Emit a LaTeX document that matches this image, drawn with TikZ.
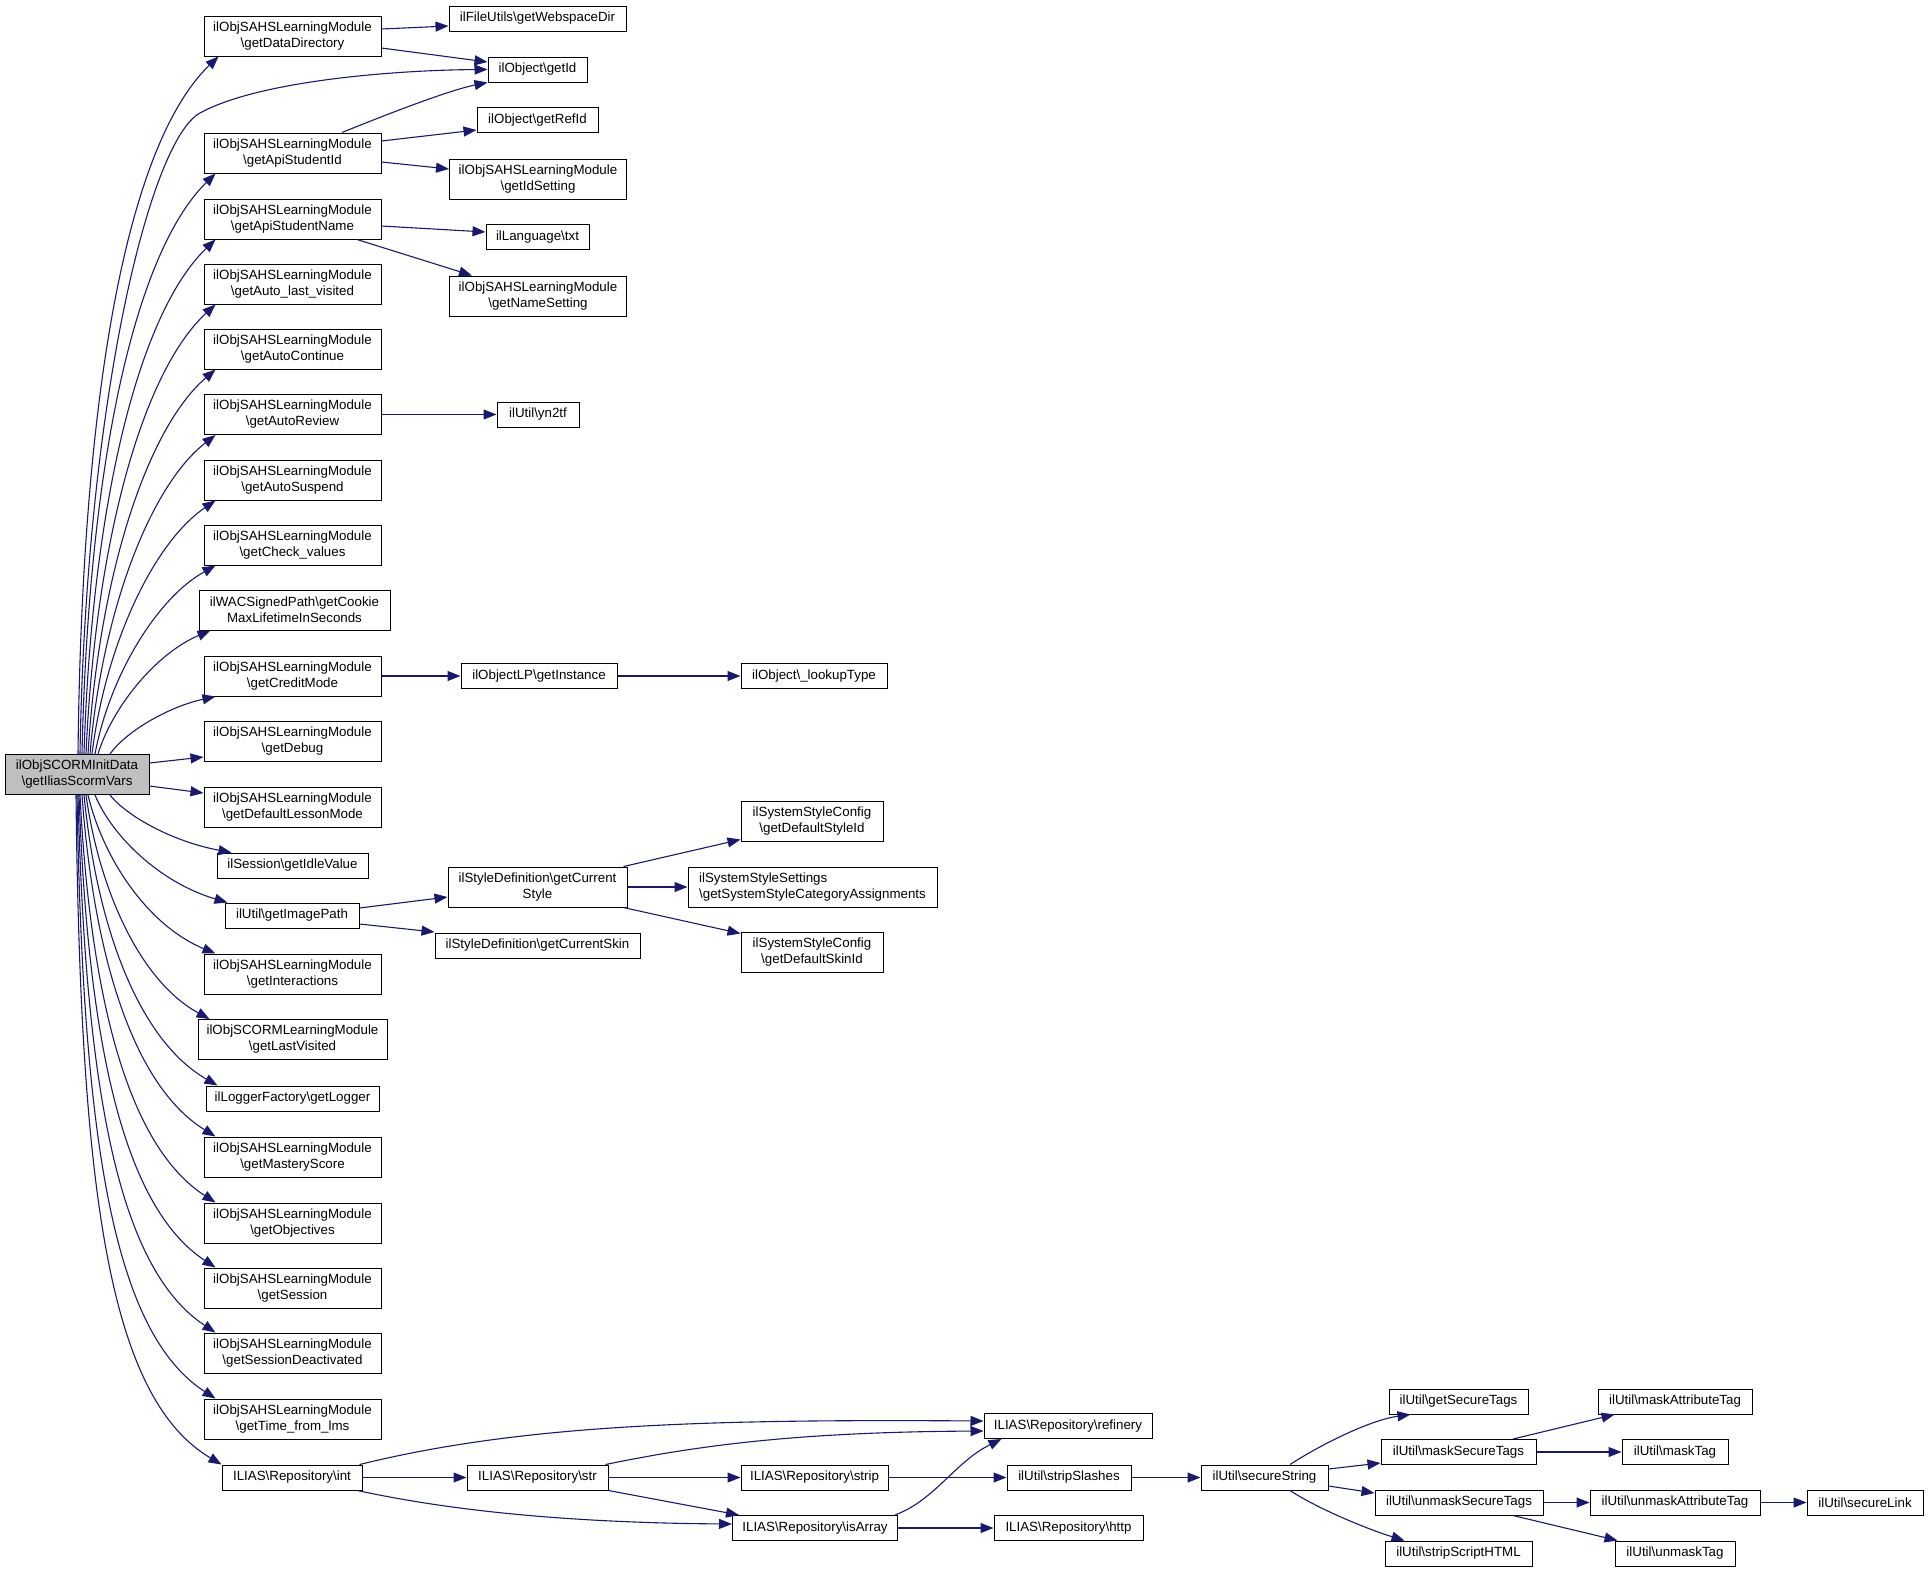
\documentclass[tikz,border=0pt]{standalone}
\usepackage{fontspec}
\setmainfont{Liberation Sans}
\usetikzlibrary{arrows.meta}
\definecolor{edgec}{HTML}{191970}
\definecolor{rootc}{HTML}{BFBFBF}
\newcommand\bs{\textbackslash}
\begin{document}
\begin{tikzpicture}[x=1pt,y=-1pt,
 fnbox/.style={draw=black,line width=1pt,fill=white,inner sep=1pt,minimum height=25pt,align=center,font=\fontsize{13.33pt}{16pt}\selectfont},
 two/.style={minimum height=40pt},
 edge/.style={draw=edgec,line width=1.1pt,-{Triangle[length=13pt,width=10pt]}}]
\useasboundingbox (0,0) rectangle (1928,1572);
% root
\node[fnbox,two,fill=rootc,minimum width=144pt] (root) at (77,774.5) {ilObjSCORMInitData\\\bs getIliasScormVars};
% column 2
\node[fnbox,two,minimum width=177pt] (dd) at (292.5,36) {ilObjSAHSLearningModule\\\bs getDataDirectory};
\node[fnbox,two,minimum width=177pt] (apiId) at (292.5,153) {ilObjSAHSLearningModule\\\bs getApiStudentId};
\node[fnbox,two,minimum width=177pt] (apiName) at (292.5,219) {ilObjSAHSLearningModule\\\bs getApiStudentName};
\node[fnbox,two,minimum width=177pt] (lastvis) at (292.5,284) {ilObjSAHSLearningModule\\\bs getAuto\_last\_visited};
\node[fnbox,two,minimum width=177pt] (autocont) at (292.5,349) {ilObjSAHSLearningModule\\\bs getAutoContinue};
\node[fnbox,two,minimum width=177pt] (autorev) at (292.5,414.5) {ilObjSAHSLearningModule\\\bs getAutoReview};
\node[fnbox,two,minimum width=177pt] (autosusp) at (292.5,480) {ilObjSAHSLearningModule\\\bs getAutoSuspend};
\node[fnbox,two,minimum width=177pt] (checkval) at (292.5,545) {ilObjSAHSLearningModule\\\bs getCheck\_values};
\node[fnbox,two,minimum width=191pt] (cookie) at (294.5,610) {ilWACSignedPath\bs getCookie\\MaxLifetimeInSeconds};
\node[fnbox,two,minimum width=177pt] (credit) at (292.5,676) {ilObjSAHSLearningModule\\\bs getCreditMode};
\node[fnbox,two,minimum width=177pt] (debug) at (292.5,741) {ilObjSAHSLearningModule\\\bs getDebug};
\node[fnbox,two,minimum width=177pt] (deflesson) at (292.5,807) {ilObjSAHSLearningModule\\\bs getDefaultLessonMode};
\node[fnbox,minimum width=151pt] (idle) at (292.5,865.5) {ilSession\bs getIdleValue};
\node[fnbox,minimum width=134pt] (imagepath) at (292,915.5) {ilUtil\bs getImagePath};
\node[fnbox,two,minimum width=177pt] (interactions) at (292.5,974) {ilObjSAHSLearningModule\\\bs getInteractions};
\node[fnbox,two,minimum width=189pt] (lastvisited) at (292.5,1039.5) {ilObjSCORMLearningModule\\\bs getLastVisited};
\node[fnbox,minimum width=173pt] (logger) at (292.5,1098.5) {ilLoggerFactory\bs getLogger};
\node[fnbox,two,minimum width=177pt] (mastery) at (292.5,1157) {ilObjSAHSLearningModule\\\bs getMasteryScore};
\node[fnbox,two,minimum width=177pt] (objectives) at (292.5,1223) {ilObjSAHSLearningModule\\\bs getObjectives};
\node[fnbox,two,minimum width=177pt] (session) at (292.5,1288) {ilObjSAHSLearningModule\\\bs getSession};
\node[fnbox,two,minimum width=177pt] (sessdeact) at (292.5,1353) {ilObjSAHSLearningModule\\\bs getSessionDeactivated};
\node[fnbox,two,minimum width=177pt] (timelms) at (292.5,1419) {ilObjSAHSLearningModule\\\bs getTime\_from\_lms};
\node[fnbox,minimum width=140pt] (int) at (292,1477.5) {ILIAS\bs Repository\bs int};
% column 3
\node[fnbox,minimum width=177pt] (webspace) at (537.5,18.5) {ilFileUtils\bs getWebspaceDir};
\node[fnbox,minimum width=99pt] (getId) at (537.5,69.5) {ilObject\bs getId};
\node[fnbox,minimum width=121pt] (getRefId) at (537.5,120) {ilObject\bs getRefId};
\node[fnbox,two,minimum width=177pt] (idsetting) at (538,179) {ilObjSAHSLearningModule\\\bs getIdSetting};
\node[fnbox,minimum width=103pt] (txt) at (537.5,237) {ilLanguage\bs txt};
\node[fnbox,two,minimum width=177pt] (namesetting) at (538,296) {ilObjSAHSLearningModule\\\bs getNameSetting};
\node[fnbox,minimum width=82pt] (yn2tf) at (538,414.5) {ilUtil\bs yn2tf};
\node[fnbox,minimum width=156pt] (instance) at (539,676) {ilObjectLP\bs getInstance};
\node[fnbox,minimum width=146pt] (lookup) at (814,676) {ilObject\bs \_lookupType};
\node[fnbox,two,minimum width=179pt] (curstyle) at (537.5,887) {ilStyleDefinition\bs getCurrent\\Style};
\node[fnbox,minimum width=205pt] (curskin) at (537.5,945.5) {ilStyleDefinition\bs getCurrentSkin};
\node[fnbox,two,minimum width=142pt] (defstyle) at (812,821) {ilSystemStyleConfig\\\bs getDefaultStyleId};
\node[fnbox,two,minimum width=249pt,align=left] (syscat) at (812.5,887) {ilSystemStyleSettings\\\bs getSystemStyleCategoryAssignments};
\node[fnbox,two,minimum width=142pt] (defskin) at (812,952) {ilSystemStyleConfig\\\bs getDefaultSkinId};
% bottom
\node[fnbox,minimum width=141pt] (str) at (537.5,1477.5) {ILIAS\bs Repository\bs str};
\node[fnbox,minimum width=147pt] (strip) at (814.5,1477.5) {ILIAS\bs Repository\bs strip};
\node[fnbox,minimum width=165pt] (isarray) at (815,1528) {ILIAS\bs Repository\bs isArray};
\node[fnbox,minimum width=168pt] (refinery) at (1068,1426) {ILIAS\bs Repository\bs refinery};
\node[fnbox,minimum width=124pt] (stripslashes) at (1069,1477.5) {ilUtil\bs stripSlashes};
\node[fnbox,minimum width=149pt] (http) at (1068.5,1528) {ILIAS\bs Repository\bs http};
\node[fnbox,minimum width=127pt] (securestring) at (1264.5,1477.5) {ilUtil\bs secureString};
\node[fnbox,minimum width=139pt] (getsecure) at (1458.5,1401.5) {ilUtil\bs getSecureTags};
\node[fnbox,minimum width=155pt] (masksecure) at (1458.5,1452) {ilUtil\bs maskSecureTags};
\node[fnbox,minimum width=168pt] (unmasksecure) at (1459,1502.5) {ilUtil\bs unmaskSecureTags};
\node[fnbox,minimum width=147pt] (stripscript) at (1458.5,1553.5) {ilUtil\bs stripScriptHTML};
\node[fnbox,minimum width=154pt] (maskattr) at (1675,1401.5) {ilUtil\bs maskAttributeTag};
\node[fnbox,minimum width=106pt] (masktag) at (1675,1452) {ilUtil\bs maskTag};
\node[fnbox,minimum width=170pt] (unmaskattr) at (1675,1502.5) {ilUtil\bs unmaskAttributeTag};
\node[fnbox,minimum width=120pt] (unmasktag) at (1675,1553.5) {ilUtil\bs unmaskTag};
\node[fnbox,minimum width=116pt] (securelink) at (1865,1502.5) {ilUtil\bs secureLink};
% root edges, upward
\draw[edge] ([xshift=1pt]root.north) .. controls (82.3,370.5) and (131.7,139.9) .. ([xshift=15pt]dd.south west);
\draw[edge] ([xshift=3pt]root.north) .. controls (86,400) and (150,140) .. (200,113) .. controls (260,80) and (400,70) .. (getId.west);
\draw[edge] ([xshift=5pt]root.north) .. controls (88.8,454.2) and (136.8,250.6) .. ([xshift=12pt]apiId.south west);
\draw[edge] ([xshift=7pt]root.north) .. controls (92.1,498) and (140.1,311.7) .. ([xshift=12pt]apiName.south west);
\draw[edge] ([xshift=9pt]root.north) .. controls (95.5,538.6) and (143.3,370.9) .. ([xshift=12pt]lastvis.south west);
\draw[edge] ([xshift=11pt]root.north) .. controls (98.8,576.9) and (146.4,429) .. ([xshift=12pt]autocont.south west);
\draw[edge] ([xshift=13pt]root.north) .. controls (102,612.8) and (149.5,486.3) .. ([xshift=12pt]autorev.south west);
\draw[edge] ([xshift=15pt]root.north) .. controls (105.2,646.7) and (152.5,543.4) .. ([xshift=12pt]autosusp.south west);
\draw[edge] ([xshift=18pt]root.north) .. controls (109.2,677.6) and (156,598.7) .. ([xshift=12pt]checkval.south west);
\draw[edge] ([xshift=21pt]root.north) .. controls (112.6,706.2) and (156.8,653) .. ([xshift=12pt]cookie.south west);
\draw[edge] ([xshift=33pt]root.north) .. controls (124.8,732.7) and (166.8,707.2) .. ([xshift=12pt]credit.south west);
\draw[edge] ([yshift=11.5pt]root.east) -- ([yshift=-16pt]debug.west);
\draw[edge] ([yshift=-11.5pt]root.east) -- ([yshift=14pt]deflesson.west);
% root edges, downward
\draw[edge] ([xshift=33pt]root.south) .. controls (127,816.5) and (173.7,841.9) .. ([xshift=15pt]idle.north west);
\draw[edge] ([xshift=18pt]root.south) .. controls (112.4,837.2) and (161.3,883.1) .. ([xshift=3pt]imagepath.north west);
\draw[edge] ([xshift=11pt]root.south) .. controls (103.6,860.1) and (148.7,926) .. ([xshift=12pt]interactions.north west);
\draw[edge] ([xshift=9pt]root.south) .. controls (99.6,892.1) and (141,981.7) .. ([xshift=12pt]lastvisited.north west);
\draw[edge] ([xshift=7pt]root.south) .. controls (97.1,928.5) and (139.1,1040.4) .. ([xshift=12pt]logger.north west);
\draw[edge] ([xshift=5pt]root.south) .. controls (93.9,958.3) and (133.8,1086) .. ([xshift=12pt]mastery.north west);
\draw[edge] ([xshift=3pt]root.south) .. controls (90.5,999.9) and (128.3,1146.2) .. ([xshift=12pt]objectives.north west);
\draw[edge] ([xshift=2pt]root.south) .. controls (87.9,1044) and (123.4,1206.8) .. ([xshift=12pt]session.north west);
\draw[edge] ([xshift=1pt]root.south) .. controls (85.4,1091.3) and (118.4,1268.6) .. ([xshift=12pt]sessdeact.north west);
\draw[edge] ([xshift=0pt]root.south) .. controls (82.8,1142.3) and (113.4,1332.6) .. ([xshift=12pt]timelms.north west);
\draw[edge] ([xshift=-1pt]root.south) .. controls (80.4,1197) and (109.6,1398) .. (int.north west);
% upper right edges
\draw[edge] ([yshift=7pt]dd.east) -- ([yshift=-7.5pt]webspace.west);
\draw[edge] ([yshift=-12pt]dd.east) -- ([yshift=7.5pt]getId.west);
\draw[edge] ([xshift=49.5pt]apiId.north) .. controls (390,113) and (450,90) .. (getId.south west);
\draw[edge] ([yshift=12pt]apiId.east) -- ([yshift=-10pt]getRefId.west);
\draw[edge] ([yshift=-9pt]apiId.east) -- ([yshift=10pt]idsetting.west);
\draw[edge] ([yshift=-7pt]apiName.east) -- ([yshift=5pt]txt.west);
\draw[edge] ([xshift=64.5pt]apiName.south) -- ([xshift=23pt]namesetting.north west);
\draw[edge] (autorev.east) -- (yn2tf.west);
\draw[edge] (credit.east) -- (instance.west);
\draw[edge] (instance.east) -- (lookup.west);
\draw[edge] ([yshift=7.5pt]imagepath.east) -- ([yshift=-10pt]curstyle.west);
\draw[edge] ([yshift=-8.5pt]imagepath.east) -- ([yshift=13.5pt]curskin.west);
\draw[edge] ([xshift=-4pt]curstyle.north east) -- ([yshift=2pt]defstyle.south west);
\draw[edge] (curstyle.east) -- (syscat.west);
\draw[edge] ([xshift=-4pt]curstyle.south east) -- ([yshift=-2pt]defskin.north west);
% bottom edges
\draw[edge] ([xshift=-3pt]int.north east) .. controls (520,1425) and (700,1419) .. ([yshift=5pt]refinery.west);
\draw[edge] (int.east) -- (str.west);
\draw[edge] ([xshift=-5pt]int.south east) .. controls (470,1515) and (600,1523) .. ([yshift=4pt]isarray.west);
\draw[edge] ([xshift=-3pt]str.north east) .. controls (700,1445) and (800,1432) .. ([yshift=-5pt]refinery.west);
\draw[edge] (str.east) -- (strip.west);
\draw[edge] (str.south east) -- ([xshift=7pt]isarray.north west);
\draw[edge] (strip.east) -- (stripslashes.west);
\draw[edge] ([xshift=-3pt]isarray.north east) .. controls (935,1500) and (955,1462) .. ([xshift=18pt]refinery.south west);
\draw[edge] (isarray.east) -- (http.west);
\draw[edge] (stripslashes.east) -- (securestring.west);
\draw[edge] ([xshift=25.5pt]securestring.north) .. controls (1320,1445) and (1370,1420) .. ([xshift=22pt]getsecure.south west);
\draw[edge] ([yshift=8.5pt]securestring.east) -- ([yshift=-11pt]masksecure.west);
\draw[edge] ([yshift=-8.5pt]securestring.east) -- ([yshift=9.5pt]unmasksecure.west);
\draw[edge] ([xshift=25.5pt]securestring.south) .. controls (1320,1510) and (1370,1530) .. ([xshift=20pt]stripscript.north west);
\draw[edge] ([xshift=54.5pt]masksecure.north) -- ([xshift=17pt]maskattr.south west);
\draw[edge] (masksecure.east) -- (masktag.west);
\draw[edge] (unmasksecure.east) -- (unmaskattr.west);
\draw[edge] ([xshift=54pt]unmasksecure.south) -- ([xshift=3pt]unmasktag.north west);
\draw[edge] (unmaskattr.east) -- (securelink.west);
\end{tikzpicture}
\end{document}
